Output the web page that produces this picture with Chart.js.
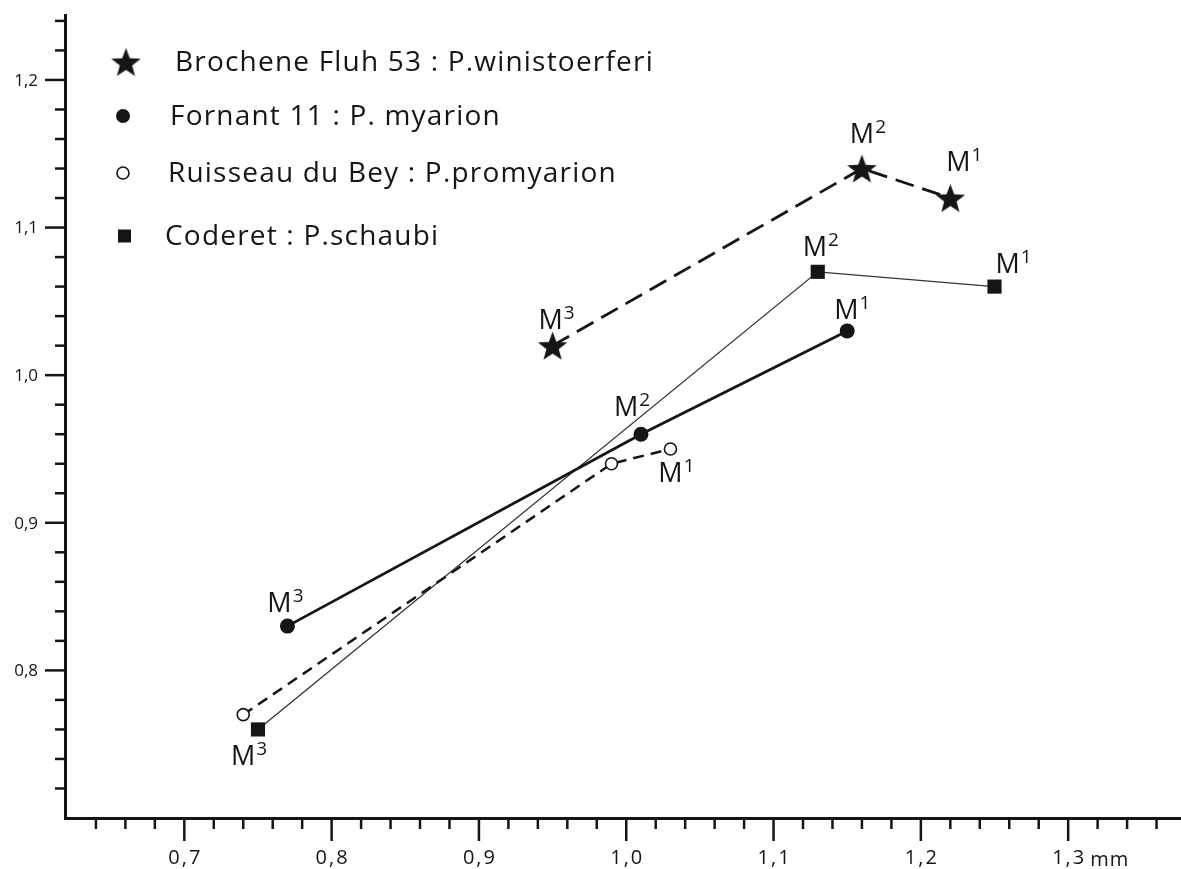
<!DOCTYPE html>
<html>
<head>
<meta charset="utf-8">
<script src="https://cdn.jsdelivr.net/npm/chart.js@4.4.1/dist/chart.umd.min.js"></script>
<style>
  html, body { margin: 0; padding: 0; background: #fff; overflow: hidden; }
</style>
</head>
<body>
<canvas id="myChart" width="1181" height="869"></canvas>
<script>
// nomi delle serie (legenda)
const seriesNames = [
  "Brochene Fluh 53 : P.winistoerferi",
  "Fornant 11 : P. myarion",
  "Ruisseau du Bey : P.promyarion",
  "Coderet : P.schaubi"
];

// valori: M3, M2, M1
const brocheneX = [0.95, 1.16, 1.22];
const brocheneY = [1.02, 1.14, 1.12];
const fornantX = [0.77, 1.01, 1.15];
const fornantY = [0.83, 0.96, 1.03];
const ruisseauX = [0.74, 0.99, 1.03];
const ruisseauY = [0.77, 0.94, 0.95];
const coderetX = [0.75, 1.13, 1.25];
const coderetY = [0.76, 1.07, 1.06];

// etichette "M" con esponente (null = nessuna etichetta)
const brocheneLabels = ["3", "2", "1"];
const fornantLabels = ["3", "2", "1"];
const ruisseauLabels = [null, null, "1"];
const coderetLabels = ["3", "2", "1"];

// etichette degli assi
const xTickValues = [0.7, 0.8, 0.9, 1.0, 1.1, 1.2, 1.3];
const xTickLabels = ["0,7", "0,8", "0,9", "1,0", "1,1", "1,2", "1,3"];
const yTickValues = [0.8, 0.9, 1.0, 1.1, 1.2];
const yTickLabels = ["0,8", "0,9", "1,0", "1,1", "1,2"];
const xUnit = "mm";

// spostamento delle etichette M rispetto al punto (px)
const labelOffsets = [
  [[4, -17], [6, -26], [14, -27]],
  [[-2, -14], [-9, -18], [5, -12]],
  [null, null, [6, 33]],
  [[-9, 36], [3, -16], [19, -14]]
];

const ink = "#151515";
const font = "'Open Sans', 'DejaVu Sans', sans-serif";

// stella piena a 5 punte come pointStyle
const starImage = function (r) {
  const c = document.createElement("canvas");
  const s = Math.ceil(r * 2 + 2);
  c.width = s; c.height = s;
  const g = c.getContext("2d");
  g.translate(s / 2, s / 2 + 1.5);
  g.beginPath();
  for (let i = 0; i < 10; i++) {
    const rad = i % 2 ? r * 0.42 : r;
    const a = -Math.PI / 2 + i * Math.PI / 5;
    g.lineTo(rad * Math.cos(a), rad * Math.sin(a));
  }
  g.closePath();
  g.fillStyle = ink;
  g.fill();
  return c;
};
const star = starImage(15.5);

const toPoints = (xs, ys) => xs.map((x, i) => ({ x: x, y: ys[i] }));
const pointLabels = [brocheneLabels, fornantLabels, ruisseauLabels, coderetLabels];

const isMajor = v => Math.abs(v * 10 - Math.round(v * 10)) < 1e-6;
const minorTicks = function (from, to) {
  const out = [];
  for (let k = Math.round(from * 50); k <= Math.round(to * 50); k++) out.push({ value: k / 50 });
  return out;
};

// disegno tacche, etichette, legenda e M
const decor = {
  id: "decor",
  afterDraw(chart) {
    const ctx = chart.ctx;
    const xs = chart.scales.x, ys = chart.scales.y;
    ctx.save();
    ctx.strokeStyle = ink;
    ctx.fillStyle = ink;
    ctx.lineWidth = 2.5;
    xs.ticks.forEach(t => {
      const px = xs.getPixelForValue(t.value);
      ctx.beginPath();
      ctx.moveTo(px, xs.top);
      ctx.lineTo(px, xs.top + (isMajor(t.value) ? 23 : 11));
      ctx.stroke();
    });
    ys.ticks.forEach(t => {
      const py = ys.getPixelForValue(t.value);
      ctx.beginPath();
      ctx.moveTo(ys.right, py);
      ctx.lineTo(ys.right - (isMajor(t.value) ? 20 : 10), py);
      ctx.stroke();
    });

    // etichette asse x
    ctx.font = "20px " + font;
    ctx.letterSpacing = "2px";
    ctx.textAlign = "center";
    ctx.textBaseline = "middle";
    xTickValues.forEach((v, i) => {
      ctx.fillText(xTickLabels[i], xs.getPixelForValue(v) + 1, 858);
    });
    ctx.textAlign = "left";
    ctx.letterSpacing = "1px";
    ctx.fillText(xUnit, xs.getPixelForValue(1.3) + 22, 860);

    // etichette asse y
    ctx.font = "17px " + font;
    ctx.letterSpacing = "0px";
    ctx.textAlign = "right";
    yTickValues.forEach((v, i) => {
      ctx.fillText(yTickLabels[i], 38, ys.getPixelForValue(v) + 1);
    });

    // legenda
    const rows = [62, 116, 173, 236];
    const textX = [175, 170, 168, 165];
    ctx.drawImage(star, 126 - star.width / 2, rows[0] - star.height / 2);
    ctx.beginPath();
    ctx.arc(123, rows[1], 7, 0, Math.PI * 2);
    ctx.fill();
    ctx.beginPath();
    ctx.lineWidth = 1.6;
    ctx.arc(123, rows[2], 6, 0, Math.PI * 2);
    ctx.stroke();
    ctx.fillRect(118, rows[3] - 6.5, 13, 13);
    ctx.font = "28px " + font;
    ctx.letterSpacing = "1.2px";
    ctx.textAlign = "left";
    seriesNames.forEach((n, i) => ctx.fillText(n, textX[i], rows[i] + 1));

    // etichette M con esponente
    ctx.letterSpacing = "0px";
    ctx.textBaseline = "alphabetic";
    pointLabels.forEach((labels, d) => {
      const meta = chart.getDatasetMeta(d);
      labels.forEach((sup, j) => {
        if (!sup) return;
        const el = meta.data[j];
        const off = labelOffsets[d][j];
        ctx.font = "27px " + font;
        const wM = ctx.measureText("M").width;
        ctx.font = "19px " + font;
        const wS = ctx.measureText(sup).width;
        const start = el.x + off[0] - (wM + 1 + wS) / 2;
        const base = el.y + off[1];
        ctx.font = "27px " + font;
        ctx.fillText("M", start, base);
        ctx.font = "19px " + font;
        ctx.fillText(sup, start + wM + 1, base - 10);
      });
    });
    ctx.restore();
  }
};

const ctx = document.getElementById("myChart");
new Chart(ctx, {
  type: "scatter",
  data: {
    datasets: [
      {
        label: seriesNames[0],
        data: toPoints(brocheneX, brocheneY),
        showLine: true,
        borderColor: ink,
        borderWidth: 2.8,
        borderDash: [19, 9],
        pointStyle: star,
        pointRadius: 15,
        clip: false
      },
      {
        label: seriesNames[1],
        data: toPoints(fornantX, fornantY),
        showLine: true,
        borderColor: ink,
        borderWidth: 2.8,
        pointStyle: "circle",
        pointRadius: 7.5,
        pointBackgroundColor: ink,
        pointBorderWidth: 0,
        clip: false
      },
      {
        label: seriesNames[2],
        data: toPoints(ruisseauX, ruisseauY),
        showLine: true,
        borderColor: ink,
        borderWidth: 2.5,
        borderDash: [11, 7],
        pointStyle: "circle",
        pointRadius: 6,
        pointBackgroundColor: "#fff",
        pointBorderColor: ink,
        pointBorderWidth: 1.6,
        clip: false
      },
      {
        label: seriesNames[3],
        data: toPoints(coderetX, coderetY),
        showLine: true,
        borderColor: "#333",
        borderWidth: 1.3,
        pointStyle: "rect",
        pointRadius: 10,
        pointBackgroundColor: ink,
        pointBorderWidth: 0,
        clip: false
      }
    ]
  },
  options: {
    responsive: false,
    animation: false,
    devicePixelRatio: 1,
    layout: { autoPadding: false, padding: { top: 15, left: 0, right: 0, bottom: 0 } },
    plugins: { legend: { display: false }, tooltip: { enabled: false } },
    scales: {
      x: {
        type: "linear",
        min: 0.619,
        max: 1.3766,
        afterBuildTicks: s => { s.ticks = minorTicks(0.64, 1.36); },
        afterFit: s => { s.height = 51; },
        ticks: { display: false },
        grid: { drawOnChartArea: false, drawTicks: false },
        border: { display: true, width: 3, color: ink }
      },
      y: {
        type: "linear",
        min: 0.70,
        max: 1.244,
        afterBuildTicks: s => { s.ticks = minorTicks(0.72, 1.24); },
        afterFit: s => { s.width = 65; },
        ticks: { display: false },
        grid: { drawOnChartArea: false, drawTicks: false },
        border: { display: true, width: 3, color: ink }
      }
    }
  },
  plugins: [decor]
});
</script>
</body>
</html>
